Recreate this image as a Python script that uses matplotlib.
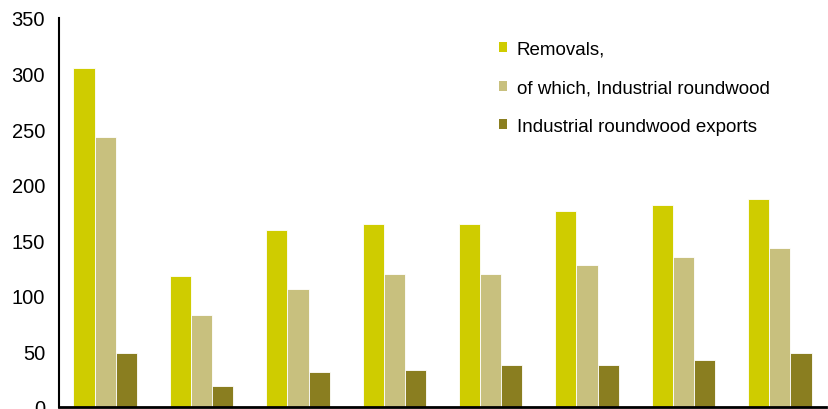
import matplotlib.pyplot as plt
import numpy as np
from matplotlib.patches import Patch

plt.rcParams["font.family"] = ["Liberation Sans Narrow", "Liberation Sans", "DejaVu Sans"]

# Series values (million m3)
removals = [305, 118, 159, 165, 165, 176, 182, 187]
industrial = [243, 83, 106, 120, 120, 128, 135, 143]
exports = [48.5, 19, 31.5, 33, 38, 38, 42, 48.5]
labels = ["Removals,", "of which, Industrial roundwood", "Industrial roundwood exports"]
colours = ["#cfcc00", "#c8c07e", "#8a7e20"]

fig = plt.figure(figsize=(8.29, 4.10), dpi=100)
ax = fig.add_axes([59 / 829, 2 / 410, 767 / 829, 389 / 410])

width = 0.22
xs = np.arange(len(removals))
for i, (vals, col) in enumerate(zip([removals, industrial, exports], colours)):
    ax.bar(xs + (i - 1) * width, vals, width, color=col, edgecolor="white", lw=0.6)

ax.set_xlim(-0.48, len(removals) - 0.52)
ax.set_ylim(0, 350)
ax.set_yticks(np.arange(0, 351, 50))
ax.set_xticks([])
ax.tick_params(axis="y", length=0, pad=10, labelsize=14.5)
for s in ["top", "right"]:
    ax.spines[s].set_visible(False)
ax.spines["left"].set_linewidth(1.5)
ax.spines["bottom"].set_linewidth(2)

handles = [Patch(facecolor=c, edgecolor="none") for c in colours]
ax.legend(
    handles,
    labels,
    loc="upper left",
    bbox_to_anchor=(423 / 767, 0.985),
    frameon=False,
    fontsize=13.5,
    handlelength=0.45,
    handleheight=0.45,
    handletextpad=0.5,
    labelspacing=1.15,
)

plt.savefig("out.png", dpi=100)
